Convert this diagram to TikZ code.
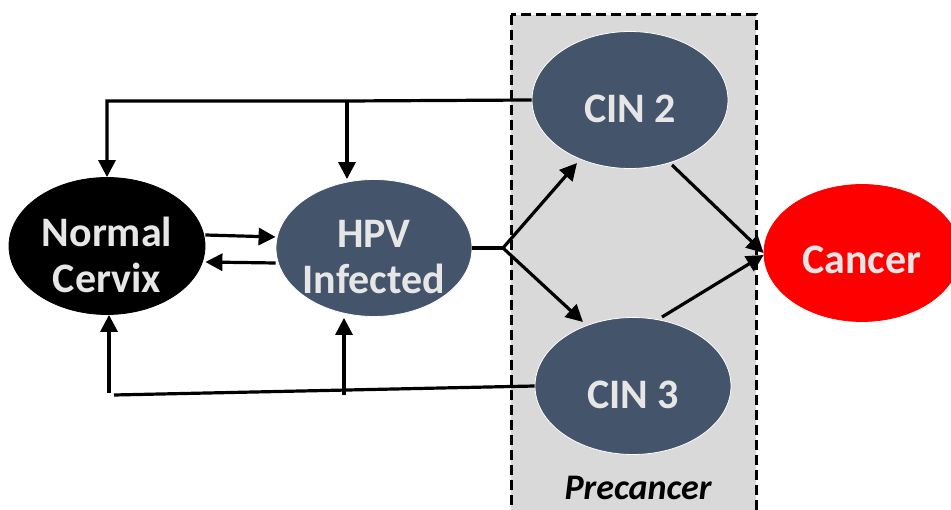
\documentclass[tikz,border=0pt]{standalone}
\usepackage{fontspec}
\setmainfont{Carlito}
\usetikzlibrary{shapes.geometric,arrows.meta}
\definecolor{slate}{HTML}{44546A}
\definecolor{lighttext}{HTML}{E7E6E6}
\definecolor{boxgray}{HTML}{D9D9D9}
\tikzset{
  state/.style={ellipse, minimum width=196pt, minimum height=137pt, inner sep=0pt,
    draw=white, line width=0.8pt},
  lbl/.style={text=lighttext, font=\fontsize{42}{46}\selectfont\bfseries, align=center, yshift=-9pt},
  conn/.style={line width=3.2pt},
  arr/.style={conn, -{Triangle[length=17pt,width=17pt]}},
}
\begin{document}
\begin{tikzpicture}[x=1pt,y=-1pt]
\useasboundingbox (0,0) rectangle (951,510);
\clip (0,0) rectangle (951,510);
\fill[white] (0,0) rectangle (951,510);
% precancer box
\draw[fill=boxgray, line width=3pt, dash pattern=on 10pt off 5pt] (511,15) rectangle (756,530);
\node[font=\fontsize{36}{40}\selectfont\bfseries\itshape, anchor=base, inner sep=0pt] (pre) at (638,500) {Precancer};
% nodes
\node[state, fill=black, draw=black] (normal) at (107,246) {};
\node[state, fill=slate] (hpv) at (374,248) {};
\node[state, fill=slate] (cin2) at (630,100) {};
\node[state, fill=slate] (cin3) at (633,386) {};
\node[state, fill=red, draw=red] (cancer) at (862,253) {};
\node[lbl] (normalt) at (normal) {Normal\\Cervix};
\node[lbl] (hpvt) at (hpv) {HPV\\Infected};
\node[lbl] (cin2t) at (cin2) {CIN 2};
\node[lbl] (cin3t) at (cin3) {CIN 3};
\node[lbl, yshift=2pt] (cancert) at (cancer) {Cancer};
% coordinates
\coordinate (tj) at (347,101);
\coordinate (bj) at (344,395);
\coordinate (bl) at (114,395);
\coordinate (bv) at (109,393);
\coordinate (fork) at (503,248);
% top feedback
\draw[arr] (cin2.west) -- (tj) -| (normal.north);
\draw[arr] (tj) -- (tj |- hpv.north);
% bottom feedback
\draw[conn] (cin3.west) -- (bl);
\draw[arr] (bj) -- ([yshift=-1pt]bj |- hpv.south);
\draw[arr] (bv) -- (bv |- normal.south);
% normal <-> hpv
\draw[arr] ([yshift=11pt]normal.east) -- ([yshift=11pt]hpv.west);
\draw[arr] ([yshift=-15pt]hpv.west) -- ([yshift=-16pt]normal.east);
% progression
\draw[conn] (hpv.east) -- (fork);
\draw[arr] (fork) -- (577,163);
\draw[arr] (fork) -- (583,322);
\draw[arr] (672,165) -- (cancer.west);
\draw[arr] (662,317) -- ([yshift=-2pt]cancer.west);
\end{tikzpicture}
\end{document}
